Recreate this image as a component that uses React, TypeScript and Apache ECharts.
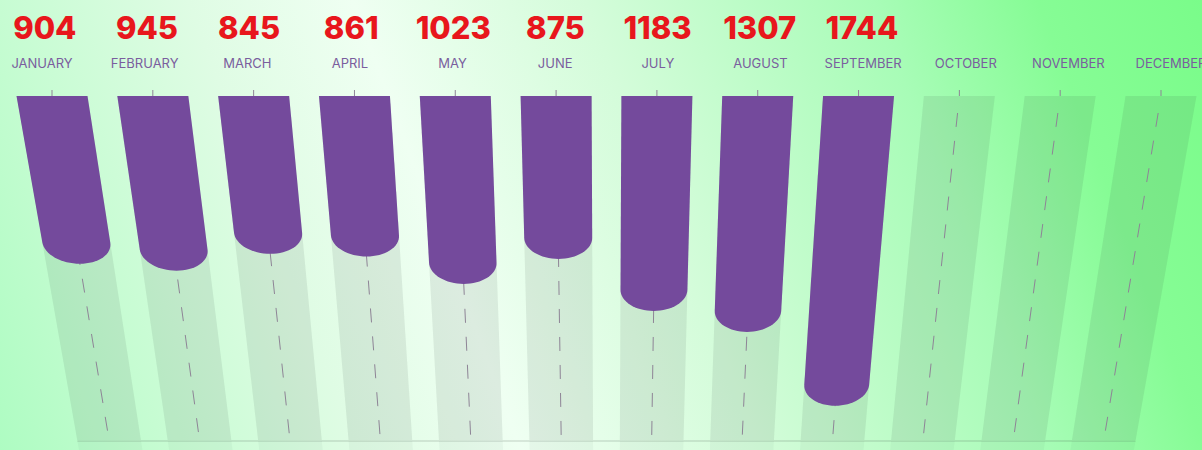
import React, { useEffect, useRef } from "react";
import * as echarts from "echarts";

const months = [
  "JANUARY", "FEBRUARY", "MARCH", "APRIL", "MAY", "JUNE",
  "JULY", "AUGUST", "SEPTEMBER", "OCTOBER", "NOVEMBER", "DECEMBER",
];
const values = [904, 945, 845, 861, 1023, 875, 1183, 1307, 1744];

const TOP = 96;
const BASE = 440;
const VX = 606;
const D = 3340;
const HW = 35.5;
const RY = 21;

function proj(X: number, Y: number): number[] {
  const s = 1 - (Y - TOP) / D;
  return [VX + (X - VX) * s, Y];
}

export default function App() {
  const ref = useRef<HTMLDivElement>(null);
  useEffect(() => {
    document.body.style.margin = "0";
    const chart = echarts.init(ref.current!, null, { renderer: "svg" });
    const option: any = {
      animation: false,
      backgroundColor: new echarts.graphic.LinearGradient(0, 450, 1202, 0, [
        { offset: 0, color: "#aefcc2" },
        { offset: 0.12, color: "#c6fcd2" },
        { offset: 0.26, color: "#dffce4" },
        { offset: 0.38, color: "#effff2" },
        { offset: 0.55, color: "#d4fcda" },
        { offset: 0.76, color: "#a8fcb7" },
        { offset: 0.88, color: "#86fc95" },
        { offset: 1, color: "#7afc8a" },
      ], true),
      grid: { left: 52, right: 41, top: 90, bottom: 22 },
      xAxis: { type: "value", min: 0, max: 11, show: false },
      yAxis: { type: "value", min: 0, max: 2000, inverse: true, show: false },
      series: [
        {
          type: "custom",
          data: months.map((_, i) => [i, 0]),
          renderItem: (params: any, api: any) => {
            const i = api.value(0);
            const x0 = api.coord([i, 0])[0];
            const children: any[] = [
              {
                type: "polygon",
                shape: {
                  points: [
                    proj(x0 - HW, TOP),
                    proj(x0 + HW, TOP),
                    proj(x0 + HW, BASE),
                    proj(x0 - HW, BASE),
                  ],
                },
                style: { fill: "rgba(30,40,40,0.09)" },
              },
              {
                type: "polygon",
                shape: {
                  points: [
                    proj(x0 - HW, BASE + 1),
                    proj(x0 + HW, BASE + 1),
                    proj(x0 + HW, 452),
                    proj(x0 - HW, 452),
                  ],
                },
                style: { fill: "rgba(30,40,40,0.04)" },
              },
              {
                type: "line",
                shape: {
                  x1: proj(x0, 113)[0], y1: 113,
                  x2: proj(x0, BASE)[0], y2: BASE,
                },
                style: { stroke: "#8e8496", lineWidth: 1, lineDash: [14, 14] },
              },
              {
                type: "line",
                shape: { x1: x0, y1: 90, x2: x0, y2: 96 },
                style: { stroke: "#8e8496", lineWidth: 1 },
              },
              {
                type: "text",
                x: VX + (x0 - VX) * 1.018,
                y: 63,
                style: {
                  text: months[i],
                  fill: "#7a5e9e",
                  fontSize: 13,
                  fontFamily: "Inter",
                  fontWeight: 400,
                  align: "center",
                  verticalAlign: "middle",
                },
              },
            ];
            if (i === 0) {
              const xl = api.coord([0, 0])[0];
              const xr = api.coord([months.length - 1, 0])[0];
              const a = proj(xl - HW, BASE + 1);
              const b = proj(xr + HW, BASE + 1);
              children.push({
                type: "line",
                shape: { x1: a[0], y1: a[1], x2: b[0], y2: b[1] },
                style: { stroke: "rgba(60,80,70,0.18)", lineWidth: 1.5 },
              });
            }
            return { type: "group", children };
          },
        },
        {
          type: "custom",
          data: values.map((v, i) => [i, v]),
          renderItem: (params: any, api: any) => {
            const i = api.value(0);
            const v = api.value(1);
            const x0 = api.coord([i, 0])[0];
            const yc = api.coord([i, v])[1];
            const pts: number[][] = [proj(x0 - HW, TOP)];
            const N = 32;
            for (let k = 0; k <= N; k++) {
              const t = Math.PI - (Math.PI * k) / N;
              pts.push(proj(x0 + HW * Math.cos(t), yc + RY * Math.sin(t)));
            }
            pts.push(proj(x0 + HW, TOP));
            return {
              type: "group",
              children: [
                {
                  type: "polygon",
                  shape: { points: pts },
                  style: { fill: "#744a9c" },
                },
                {
                  type: "text",
                  x: VX + (x0 - VX) * 1.013,
                  y: 27,
                  style: {
                    text: String(v),
                    fill: "#e8161c",
                    fontSize: 31,
                    fontFamily: "Inter",
                    fontWeight: 800,
                    align: "center",
                    verticalAlign: "middle",
                  },
                },
              ],
            };
          },
        },
      ],
    };
    chart.setOption(option);
    return () => chart.dispose();
  }, []);
  return <div ref={ref} style={{ width: 1202, height: 450 }} />;
}
